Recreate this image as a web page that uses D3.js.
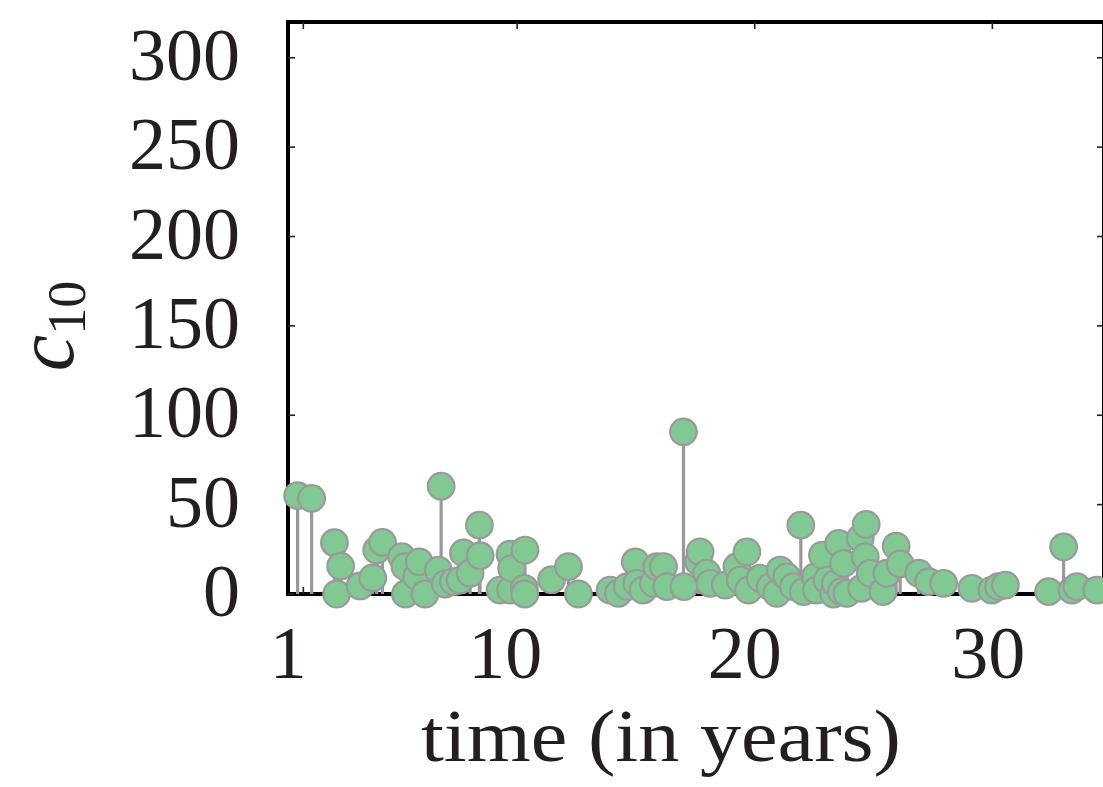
<!DOCTYPE html>
<html>
<head>
<meta charset="utf-8">
<script src="https://cdn.jsdelivr.net/npm/d3@7"></script>
<style>
  html, body { margin: 0; padding: 0; background: #fff; }
  svg { display: block; }
  text { font-family: "Liberation Serif", "DejaVu Serif", serif; fill: #231f20; }
</style>
</head>
<body>
<svg id="chart" width="1103" height="787"></svg>
<script>
// Event times (years) and c10 values for the stem plot
const times = [
  0.76, 1.35, 2.31, 2.40, 2.57, 3.39, 3.92, 4.09, 4.33, 5.14,
  5.28, 5.30, 5.77, 5.88, 6.12, 6.68, 6.80, 6.97, 7.32, 7.60,
  7.74, 8.02, 8.41, 8.44, 9.28, 9.70, 9.72, 9.77, 10.30, 10.32,
  10.33, 11.45, 12.16, 12.58, 13.91, 14.26, 14.64, 14.97, 15.04, 15.30,
  15.74, 15.88, 16.16, 16.30, 17.00, 17.02, 17.63, 17.70, 17.98, 18.12,
  18.76, 19.25, 19.39, 19.67, 19.74, 20.23, 20.65, 20.93, 21.07, 21.35,
  21.63, 21.94, 22.05, 22.55, 22.60, 22.85, 23.04, 23.32, 23.40, 23.53,
  23.65, 23.74, 23.88, 24.44, 24.50, 24.65, 24.69, 24.86, 25.40, 25.56,
  25.95, 26.12, 26.90, 27.32, 27.95, 29.14, 29.98, 30.26, 30.55, 32.37,
  33.00, 33.35, 33.56, 34.40
];
const c10 = [
  55.0, 53.5, 28.7, 0.0, 15.6, 4.5, 9.0, 24.6, 28.9, 20.9,
  15.3, 0.0, 9.7, 18.0, 0.0, 13.4, 60.3, 5.6, 6.9, 7.8,
  23.0, 11.6, 38.5, 21.4, 2.2, 22.3, 2.2, 14.3, 3.2, 0.0,
  24.6, 8.0, 15.3, 0.0, 2.2, 0.4, 4.1, 18.0, 6.0, 2.2,
  6.0, 15.3, 15.3, 4.1, 90.7, 4.1, 18.0, 23.6, 11.6, 6.0,
  5.0, 15.3, 7.8, 23.6, 2.2, 8.8, 4.1, 0.4, 13.4, 9.7,
  4.1, 38.5, 1.3, 9.7, 2.2, 21.8, 7.8, 0.0, 6.0, 28.3,
  1.3, 17.1, 0.4, 31.1, 3.2, 20.8, 38.9, 11.6, 1.3, 11.6,
  26.8, 16.8, 11.6, 6.9, 6.0, 3.2, 2.2, 4.1, 5.0, 1.3,
  26.4, 2.2, 4.1, 2.2
];
const xTicks = [1, 10, 20, 30];
const xTickLabels = ["1", "10", "20", "30"];
const yTicks = [0, 50, 100, 150, 200, 250, 300];
const yTickLabels = ["0", "50", "100", "150", "200", "250", "300"];

const svg = d3.select("#chart");
const plot = { left: 288, right: 1104, top: 22, bottom: 594 };

const x = d3.scaleLinear().domain([0.355, 34.7]).range([plot.left, plot.right]);
const y = d3.scaleLinear().domain([0, 320]).range([plot.bottom, plot.top]);

const tickLen = 7;
const axisColor = "#000";

// Frame (spines)
svg.append("rect")
  .attr("x", plot.left).attr("y", plot.top)
  .attr("width", plot.right - plot.left).attr("height", plot.bottom - plot.top)
  .attr("fill", "none").attr("stroke", axisColor).attr("stroke-width", 4);

// Inward ticks on all four sides
const tickG = svg.append("g").attr("stroke", "#222").attr("stroke-width", 1.6);
xTicks.forEach(t => {
  tickG.append("line").attr("x1", x(t)).attr("x2", x(t))
    .attr("y1", plot.bottom).attr("y2", plot.bottom - tickLen);
  tickG.append("line").attr("x1", x(t)).attr("x2", x(t))
    .attr("y1", plot.top).attr("y2", plot.top + tickLen);
});
yTicks.forEach(t => {
  tickG.append("line").attr("x1", plot.left).attr("x2", plot.left + tickLen)
    .attr("y1", y(t)).attr("y2", y(t));
  tickG.append("line").attr("x1", plot.right).attr("x2", plot.right - tickLen)
    .attr("y1", y(t)).attr("y2", y(t));
});

// Tick labels
const xLabelNudge = [-15, -12, -10, -4];
svg.append("g").selectAll("text").data(xTicks).join("text")
  .attr("x", (d, i) => x(d) + xLabelNudge[i])
  .attr("y", plot.bottom + 84)
  .attr("text-anchor", "middle")
  .attr("font-size", 74)
  .text((d, i) => xTickLabels[i]);

svg.append("g").selectAll("text").data(yTicks).join("text")
  .attr("x", 240)
  .attr("y", d => y(d) + 22)
  .attr("text-anchor", "end")
  .attr("font-size", 74)
  .text((d, i) => yTickLabels[i]);

// Axis titles
svg.append("text")
  .attr("x", 661).attr("y", 761)
  .attr("text-anchor", "middle")
  .attr("font-size", 74)
  .attr("textLength", 480).attr("lengthAdjust", "spacingAndGlyphs")
  .text("time (in years)");

const yTitle = svg.append("text")
  .attr("transform", "translate(73,326) rotate(-90)")
  .attr("text-anchor", "middle");
yTitle.append("tspan").attr("font-style", "italic").attr("font-size", 82).text("c");
yTitle.append("tspan").attr("font-size", 54).attr("dy", 12).text("10");

// Stems and markers
const data = times.map((t, i) => ({ t, v: c10[i] }));

svg.append("g").selectAll("line").data(data).join("line")
  .attr("x1", d => x(d.t)).attr("x2", d => x(d.t))
  .attr("y1", y(0)).attr("y2", d => y(d.v))
  .attr("stroke", "#999999").attr("stroke-width", 3.2);

svg.append("g").selectAll("circle").data(data).join("circle")
  .attr("cx", d => x(d.t)).attr("cy", d => y(d.v))
  .attr("r", 13.3)
  .attr("fill", "#81c992")
  .attr("stroke", "#9a9a9a").attr("stroke-width", 2.2);
</script>
</body>
</html>
